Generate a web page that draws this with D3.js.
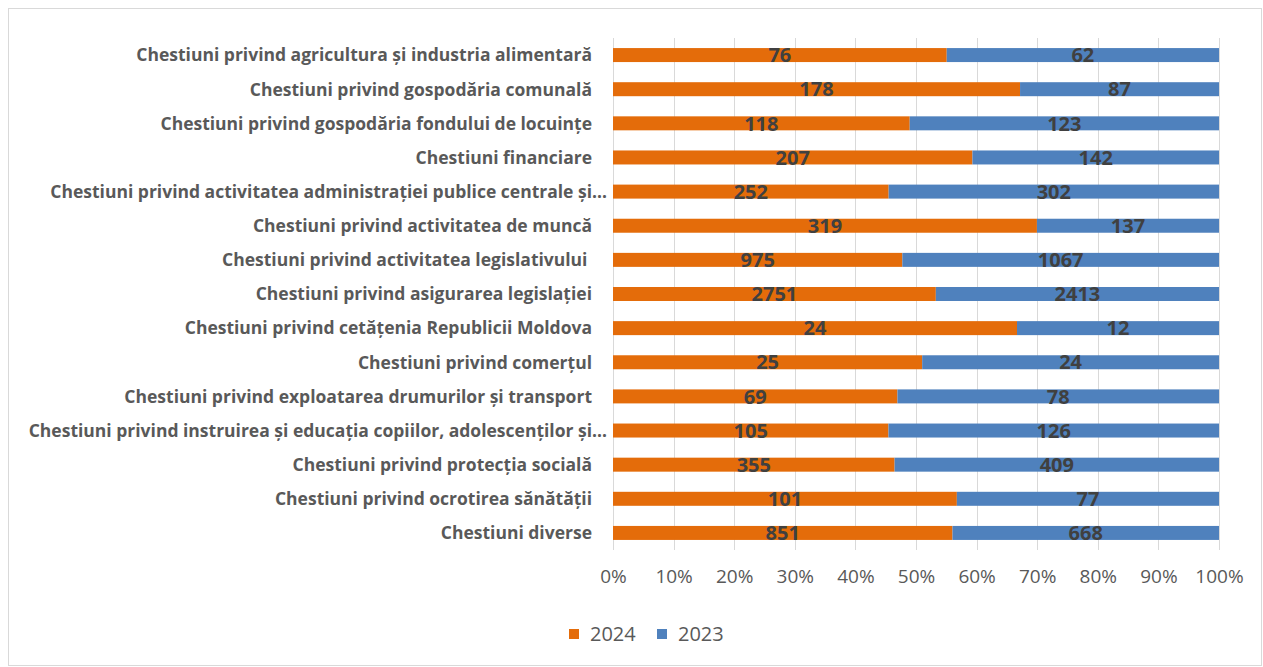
<!DOCTYPE html>
<html>
<head>
<meta charset="utf-8">
<script src="https://cdn.jsdelivr.net/npm/d3@7"></script>
<style>
	body { margin: 0; background: #fff; }
	svg { display: block; }
	text { font-family: "Open Sans", sans-serif; }
</style>
</head>
<body>
<svg id="chart" width="1263" height="667"></svg>
<script>
const categories = [
	"Chestiuni privind agricultura și industria alimentară",
	"Chestiuni privind gospodăria comunală",
	"Chestiuni privind gospodăria fondului de locuințe",
	"Chestiuni financiare",
	"Chestiuni privind activitatea administrației publice centrale și...",
	"Chestiuni privind activitatea de muncă",
	"Chestiuni privind activitatea legislativului ",
	"Chestiuni privind asigurarea legislației",
	"Chestiuni privind cetățenia Republicii Moldova",
	"Chestiuni privind comerțul",
	"Chestiuni privind exploatarea drumurilor și transport",
	"Chestiuni privind instruirea și educația copiilor, adolescenților și...",
	"Chestiuni privind protecția socială",
	"Chestiuni privind ocrotirea sănătății",
	"Chestiuni diverse",
];
const values2024 = [76, 178, 118, 207, 252, 319, 975, 2751, 24, 25, 69, 105, 355, 101, 851];
const values2023 = [62, 87, 123, 142, 302, 137, 1067, 2413, 12, 24, 78, 126, 409, 77, 668];
const seriesNames = ["2024", "2023"];
const seriesColors = ["#E46C0A", "#4F81BD"];
const tickValues = [0, 0.1, 0.2, 0.3, 0.4, 0.5, 0.6, 0.7, 0.8, 0.9, 1];

const svg = d3.select("#chart");
const W = 1263, H = 667;
const plot = { left: 613, right: 1219, top: 38, bottom: 550 };

// frame
svg.append("rect")
	.attr("x", 8.5).attr("y", 8.5)
	.attr("width", W - 10).attr("height", H - 10)
	.attr("fill", "#fff").attr("stroke", "#d9d9d9");

const rows = categories.map((c, i) => ({
	cat: c, i,
	v: [values2024[i], values2023[i]],
	total: values2024[i] + values2023[i],
}));

const x = d3.scaleLinear().domain([0, 1]).range([plot.left, plot.right]);
const y = d3.scaleBand()
	.domain(d3.range(categories.length))
	.range([plot.top, plot.bottom])
	.paddingInner(0.59)
	.paddingOuter(0.295);

// gridlines
svg.append("g")
	.selectAll("line")
	.data(tickValues)
	.join("line")
	.attr("x1", (d) => Math.round(x(d)) + 0.5)
	.attr("x2", (d) => Math.round(x(d)) + 0.5)
	.attr("y1", plot.top)
	.attr("y2", plot.bottom)
	.attr("stroke", "#d9d9d9")
	.attr("stroke-width", 1);

// x axis tick labels
const xAxis = d3.axisBottom(x)
	.tickValues(tickValues)
	.tickFormat(d3.format(".0%"))
	.tickSize(0)
	.tickPadding(0);
const gx = svg.append("g")
	.attr("transform", `translate(0,${plot.bottom + 19})`)
	.call(xAxis);
gx.select(".domain").remove();
gx.selectAll("text")
	.attr("fill", "#595959")
	.attr("font-size", 19)
	.style("font-family", "'Open Sans', sans-serif");

// bars
const stackData = [];
rows.forEach((r) => {
	let acc = 0;
	r.v.forEach((v, s) => {
		const f = v / r.total;
		stackData.push({ i: r.i, s, v, x0: acc, x1: acc + f });
		acc += f;
	});
});

svg.append("g")
	.selectAll("rect")
	.data(stackData)
	.join("rect")
	.attr("x", (d) => x(d.x0))
	.attr("width", (d) => x(d.x1) - x(d.x0))
	.attr("y", (d) => y(d.i))
	.attr("height", y.bandwidth())
	.attr("fill", (d) => seriesColors[d.s]);

// value labels
svg.append("g")
	.selectAll("text")
	.data(stackData)
	.join("text")
	.attr("x", (d) => (x(d.x0) + x(d.x1)) / 2)
	.attr("y", (d) => y(d.i) + y.bandwidth() / 2)
	.attr("dy", "0.36em")
	.attr("text-anchor", "middle")
	.attr("font-size", 20)
	.attr("font-weight", "bold")
	.attr("fill", "#404040")
	.text((d) => d.v);

// category labels
svg.append("g")
	.selectAll("text")
	.data(rows)
	.join("text")
	.attr("x", (d) => d.cat.endsWith("...") ? plot.left - 6 : plot.left - 21)
	.attr("y", (d) => y(d.i) + y.bandwidth() / 2)
	.attr("dy", "0.36em")
	.attr("text-anchor", "end")
	.attr("font-size", 17.5)
	.attr("font-weight", "bold")
	.attr("fill", "#595959")
	.style("white-space", "pre")
	.text((d) => d.cat.replace(/\.\.\.$/, "…"));

// legend
const legend = svg.append("g").attr("transform", "translate(569,634)");
const lx = [0, 88];
seriesNames.forEach((name, s) => {
	const g = legend.append("g").attr("transform", `translate(${lx[s]},0)`);
	g.append("rect")
		.attr("x", 0).attr("y", -5)
		.attr("width", 10).attr("height", 10)
		.attr("fill", seriesColors[s]);
	g.append("text")
		.attr("x", 21).attr("y", 0)
		.attr("dy", "0.36em")
		.attr("font-size", 20)
		.attr("fill", "#595959")
		.text(name);
});
</script>
</body>
</html>
